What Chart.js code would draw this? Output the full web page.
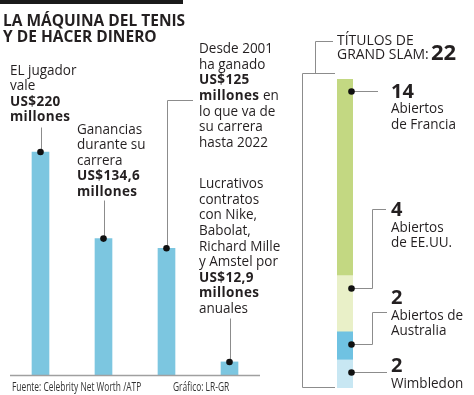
<!DOCTYPE html>
<html><head><meta charset="utf-8">
<script src="https://cdn.jsdelivr.net/npm/chart.js@4"></script>
<style>
html,body{margin:0;padding:0;background:#fff;}
#wrap{position:relative;width:474px;height:395px;overflow:hidden;background:#fff;}
canvas{position:absolute;left:0;top:0;}
.lbl{position:absolute;white-space:nowrap;font-family:'Open Sans',sans-serif;color:#231f20;transform-origin:0 0;z-index:5;}
.lbl b{font-weight:700;}
.note b{letter-spacing:0.4px;}
</style></head><body>
<div id="wrap">
<div style="position:absolute;left:0;top:0;width:183px;height:4px;background:#1a1a1a"></div>
<canvas id="c1" width="474" height="395"></canvas>
<canvas id="c2" width="474" height="395"></canvas>
</div>
<script>
// ---- data ----
const categories = ['Valor del jugador', 'Ganancias durante su carrera', 'Ganado desde 2001 hasta 2022', 'Contratos anuales'];
const values = [220, 134.6, 125, 12.9];           // millones de US$
const slamCategories = ['Abiertos de Francia', 'Abiertos de EE.UU.', 'Abiertos de Australia', 'Wimbledon'];
const slamTitles = [14, 4, 2, 2];
const slamTotal = 22;

const titleLines = ['LA MÁQUINA DEL TENIS', 'Y DE HACER DINERO'];
const barNotes = [
  ['EL jugador', 'vale', '<b>US$220</b>', '<b>millones</b>'],
  ['Ganancias', 'durante su', 'carrera', '<b>US$134,6</b>', '<b>millones</b>'],
  ['Desde 2001', 'ha ganado', '<b>US$125</b>', '<b>millones</b> en', 'lo que va de', 'su carrera', 'hasta 2022'],
  ['Lucrativos', 'contratos', 'con Nike,', 'Babolat,', 'Richard Mille', 'y Amstel por', '<b>US$12,9</b>', '<b>millones</b>', 'anuales']
];
const slamHeader = ['TÍTULOS DE', 'GRAND SLAM:'];
const slamNotes = [
  ['Abiertos', 'de Francia'],
  ['Abiertos', 'de EE.UU.'],
  ['Abiertos de', 'Australia'],
  ['Wimbledon']
];
const sourceText = 'Fuente: Celebrity Net Worth /ATP';
const creditText = 'Gráfico: LR-GR';

// ---- layout (pixels) ----
const noteX = [10, 77, 199, 199];
const noteBase = [75, 134, 53.5, 188.5];
const LH = 15.6;
const leaderTop = [127, 200, 100, 318];
const leaderRight = [null, null, 193, null];
const slamColors = ['#c3d882', '#e9f0c8', '#6fc2e2', '#c8e7f3'];
const slamNumBase = [98.3, 217, 305, 372.5];
const slamLeader = [
  {end: 378}, {elbow: 372, up: 209, end: 386}, {elbow: 372, up: 312, end: 387}, {end: 387}
];

const wrap = document.getElementById('wrap');
function place(x, baseline, html, size, scale, color, cls) {
  const d = document.createElement('div');
  d.className = 'lbl' + (cls ? ' ' + cls : '');
  d.style.left = x + 'px';
  d.style.top = (baseline - 0.888 * size) + 'px';
  d.style.fontSize = size + 'px';
  d.style.lineHeight = size + 'px';
  if (scale !== 1) d.style.transform = 'scaleX(' + scale + ')';
  if (color) d.style.color = color;
  d.innerHTML = html;
  wrap.appendChild(d);
}
titleLines.forEach((t, i) => place(3, 27 + i * 16, '<b>' + t + '</b>', 15.5, 1));
barNotes.forEach((lines, k) => lines.forEach((t, i) => place(noteX[k], noteBase[k] + i * LH, t, 15, 0.9, null, 'note')));
slamHeader.forEach((t, i) => place(337, 45 + i * 14.5, t, 15, 0.93));
place(431, 60, '<b>' + slamTotal + '</b>', 22, 1);
slamNotes.forEach((lines, k) => {
  place(391, slamNumBase[k], '<b>' + slamTitles[k] + '</b>', 20, 1);
  lines.forEach((t, i) => place(391, slamNumBase[k] + 15.5 + i * 15.2, t, 15, 0.9));
});
place(12, 391.5, sourceText, 12, 0.7, '#333');
place(173, 391.5, creditText, 12, 0.7, '#333');

const GREY = '#8c8c8c';
function dot(ctx, x, y) {
  ctx.beginPath(); ctx.arc(x, y, 3.3, 0, Math.PI * 2); ctx.fillStyle = '#111'; ctx.fill();
}

const leftPlugin = {
  id: 'leftLeaders',
  afterDatasetsDraw(chart) {
    const ctx = chart.ctx, ys = chart.scales.y;
    const meta = chart.getDatasetMeta(0);
    ctx.save();
    const y0 = Math.round(ys.getPixelForValue(0)) + 0.5;
    ctx.strokeStyle = '#a0a0a0'; ctx.lineWidth = 1.5;
    ctx.beginPath(); ctx.moveTo(10, y0); ctx.lineTo(260, y0); ctx.stroke();
    ctx.strokeStyle = GREY; ctx.lineWidth = 1;
    meta.data.forEach((bar, i) => {
      const x = Math.round(bar.x) + 0.5;
      ctx.beginPath(); ctx.moveTo(x, bar.y); ctx.lineTo(x, leaderTop[i] + 0.5);
      if (leaderRight[i]) ctx.lineTo(leaderRight[i], leaderTop[i] + 0.5);
      ctx.stroke();
      dot(ctx, bar.x, bar.y);
    });
    ctx.restore();
  }
};

new Chart(document.getElementById('c1'), {
  type: 'bar',
  data: { labels: categories, datasets: [{ data: values, backgroundColor: '#7cc6e0', borderWidth: 0, barThickness: 17 }] },
  options: {
    responsive: false, animation: false, devicePixelRatio: 1,
    layout: { padding: { left: 9, right: 213, top: 0, bottom: 20 } },
    plugins: { legend: { display: false }, tooltip: { enabled: false } },
    scales: { x: { display: false }, y: { display: false, min: 0, max: 370 } }
  },
  plugins: [leftPlugin]
});

const rightPlugin = {
  id: 'rightLeaders',
  afterDatasetsDraw(chart) {
    const ctx = chart.ctx, ys = chart.scales.y, ca = chart.chartArea;
    ctx.save();
    ctx.strokeStyle = GREY; ctx.lineWidth = 1;
    const top = Math.round(ys.getPixelForValue(slamTotal)) - 6 + 0.5;
    const bot = Math.round(ys.getPixelForValue(0)) - 1 + 0.5;
    const bx = 302.5, bRight = ca.left - 2;
    ctx.beginPath();
    ctx.moveTo(bRight, top); ctx.lineTo(bx, top); ctx.lineTo(bx, bot); ctx.lineTo(bRight, bot);
    ctx.moveTo(315.5, top); ctx.lineTo(315.5, 41.5); ctx.lineTo(333, 41.5);
    ctx.stroke();
    const n = slamCategories.length;
    for (let k = 0; k < n; k++) {
      const dsIndex = n - 1 - k;
      const bar = chart.getDatasetMeta(dsIndex).data[0];
      const segTop = Math.min(bar.y, bar.base), segBot = Math.max(bar.y, bar.base);
      const dy = Math.round(Math.min(segTop + 12, (segTop + segBot) / 2)) + 0.5;
      const dx = bar.x + bar.width / 2 - 1.5;
      const L = slamLeader[k];
      ctx.beginPath(); ctx.moveTo(dx, dy);
      if (L.elbow) {
        ctx.lineTo(L.elbow + 0.5, dy); ctx.lineTo(L.elbow + 0.5, L.up + 0.5); ctx.lineTo(L.end, L.up + 0.5);
      } else {
        ctx.lineTo(L.end, dy);
      }
      ctx.stroke();
      dot(ctx, dx, dy);
    }
    ctx.restore();
  }
};

new Chart(document.getElementById('c2'), {
  type: 'bar',
  data: {
    labels: ['Grand Slam'],
    datasets: slamCategories.map((c, k) => ({ label: c, data: [slamTitles[k]], backgroundColor: slamColors[k], borderWidth: 0, barPercentage: 1, categoryPercentage: 1 })).reverse()
  },
  options: {
    responsive: false, animation: false, devicePixelRatio: 1,
    layout: { padding: { left: 337, right: 121, top: 79, bottom: 7 } },
    plugins: { legend: { display: false }, tooltip: { enabled: false } },
    scales: { x: { display: false, stacked: true }, y: { display: false, stacked: true, min: 0, max: slamTotal } }
  },
  plugins: [rightPlugin]
});
</script>
</body></html>
